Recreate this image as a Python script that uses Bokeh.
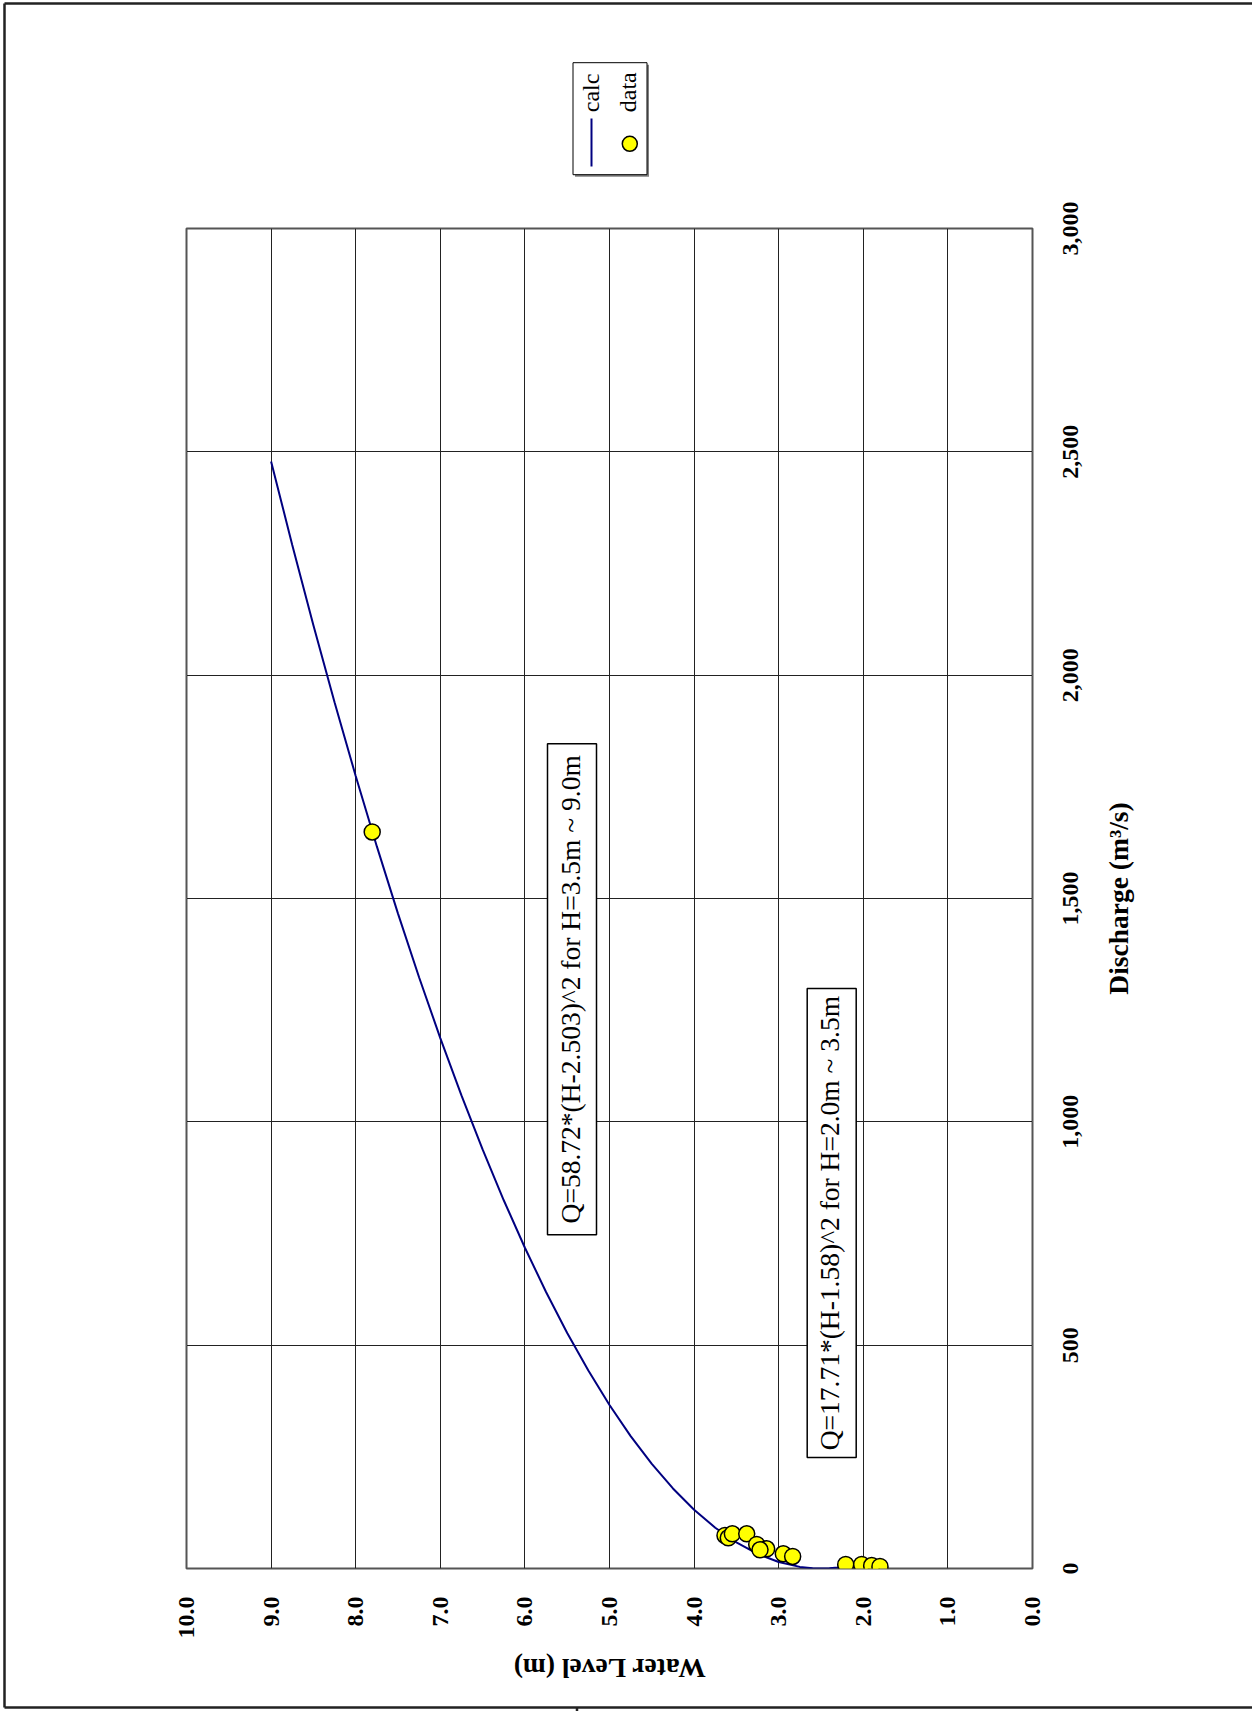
import math
from bokeh.plotting import figure
from bokeh.models import Range1d, FixedTicker, Grid
from bokeh.core.properties import value
from bokeh.embed import file_html
from bokeh.resources import INLINE

# ---------------- data ----------------
wl_ticks = [0, 1, 2, 3, 4, 5, 6, 7, 8, 9, 10]
wl_tick_labels = ["0.0", "1.0", "2.0", "3.0", "4.0", "5.0", "6.0", "7.0", "8.0", "9.0", "10.0"]
q_ticks = [0, 500, 1000, 1500, 2000, 2500, 3000]
q_tick_labels = ["0", "500", "1,000", "1,500", "2,000", "2,500", "3,000"]

# calc curve (water level H, discharge Q)
calc_h = [2.0, 2.1, 2.2, 2.3, 2.4, 2.5, 2.6, 2.75, 3.0, 3.25, 3.5, 3.75, 4.0, 4.25, 4.5,
          4.75, 5.0, 5.25, 5.5, 5.75, 6.0, 6.25, 6.5, 6.75, 7.0, 7.25, 7.5, 7.75, 8.0,
          8.25, 8.5, 8.75, 9.0]
calc_q = [14.9, 9.5, 5.4, 2.4, 0.6, 0.0, 0.6, 3.6, 14.5, 32.8, 58.4, 91.3, 131.6, 179.2, 234.2,
          296.5, 366.1, 443.1, 527.4, 619.1, 718.1, 824.4, 938.1, 1059.1, 1187.5, 1323.2, 1466.2,
          1616.6, 1774.3, 1939.4, 2111.8, 2291.6, 2478.6]

# measured data
data_h = [3.635, 3.596, 3.548, 3.378, 3.260, 3.142, 3.221, 2.946, 2.835, 2.208, 2.019, 1.901, 1.803, 7.805]
data_q = [73.9, 68.8, 77.7, 77.7, 53.8, 44.1, 41.9, 32.9, 26.9, 9.0, 9.0, 6.7, 4.5, 1649.0]

note_texts = ["Q=58.72*(H-2.503)^2 for H=3.5m ~ 9.0m", "Q=17.71*(H-1.58)^2 for H=2.0m ~ 3.5m"]
legend_labels = ["calc", "data"]
x_title = "Water Level (m)"
y_title = "Discharge (m\u00b3/s)"

# ---------------- layout ----------------
W, H = 1252, 1711
FL, FR, FT, FB = 186, 1032, 228, 1568
SERIF = "Liberation Serif"
NAVY = "#000080"


def hx(px):
    return 10 - (px - FL) * 10.0 / (FR - FL)


def qy(py):
    return (FB - py) * 3000.0 / (FB - FT)


def dw(pw):
    return pw * 10.0 / (FR - FL)


def dh(ph):
    return ph * 3000.0 / (FB - FT)


p = figure(width=W, height=H, x_range=Range1d(10, 0), y_range=Range1d(0, 3000),
           x_axis_location="below", y_axis_location=None,
           toolbar_location=None, output_backend="svg",
           min_border_left=FL, min_border_right=W - FR,
           min_border_top=FT, min_border_bottom=H - FB)
p.background_fill_color = "white"
p.border_fill_color = "white"
p.outline_line_color = "#555555"
p.outline_line_width = 2

ax = p.xaxis[0]
ax.ticker = FixedTicker(ticks=wl_ticks)
ax.major_label_overrides = {t: l for t, l in zip(wl_ticks, wl_tick_labels)}
ax.major_label_orientation = math.pi / 2
ax.major_label_standoff = 28
ax.major_label_text_font = SERIF
ax.major_label_text_font_style = "bold"
ax.major_label_text_font_size = "24px"
ax.major_label_text_color = "black"
ax.major_tick_in = 0
ax.major_tick_out = 0
ax.minor_tick_in = 0
ax.minor_tick_out = 0
ax.axis_line_color = None

p.xgrid.ticker = FixedTicker(ticks=wl_ticks)
p.xgrid.grid_line_color = "#222222"
p.xgrid.grid_line_width = 1
ygrid = Grid(dimension=1, ticker=FixedTicker(ticks=q_ticks),
             grid_line_color="#222222", grid_line_width=1)
p.add_layout(ygrid)

# notes (boxes + rotated text)
note_cx = [hx(571.5), hx(831.2)]
note_cy = [qy(988.8), qy(1222.6)]
note_bw = [dw(49), dw(49)]
note_bh = [dh(491), dh(469)]
p.rect(x=note_cx, y=note_cy, width=note_bw, height=note_bh,
       fill_color="white", line_color="black", line_width=1.5)
p.text(x=[c + dw(2) for c in note_cx], y=note_cy, text=note_texts, angle=math.pi / 2,
       text_font=value(SERIF), text_font_size="27.5px", text_color="black",
       text_align="center", text_baseline="middle")

# calc line and data points
p.line(calc_h, calc_q, line_color=NAVY, line_width=2)
p.scatter(data_h, data_q, size=16, fill_color="#FFFF00", line_color="black", line_width=1.5)

# discharge tick labels (right side, rotated)
p.text(x=[hx(1070)] * len(q_ticks), y=q_ticks, text=q_tick_labels, angle=math.pi / 2,
       text_font=value(SERIF), text_font_size="24px", text_font_style="bold",
       text_color="black", text_align="center", text_baseline="middle", level="overlay")

# axis titles
p.text(x=[hx(1118)], y=[qy(898)], text=[y_title], angle=math.pi / 2,
       text_font=value(SERIF), text_font_size="27.5px", text_font_style="bold",
       text_color="black", text_align="center", text_baseline="middle", level="overlay")
p.text(x=[hx(609)], y=[qy(1668)], text=[x_title], angle=math.pi,
       text_font=value(SERIF), text_font_size="27.5px", text_font_style="bold",
       text_color="black", text_align="center", text_baseline="middle", level="overlay")

# legend (rotated)
p.rect(x=[hx(611.5)], y=[qy(120.2)], width=[dw(74)], height=[dh(112)],
       fill_color="#808080", line_color=None, level="overlay")
p.rect(x=[hx(609.5)], y=[qy(118.2)], width=[dw(74)], height=[dh(112)],
       fill_color="white", line_color="black", line_width=1, level="overlay")
p.line([hx(591), hx(591)], [qy(118), qy(166)], line_color=NAVY, line_width=2, level="overlay")
p.ellipse(x=[hx(629.3)], y=[qy(143.3)], width=15, height=15,
          width_units="screen", height_units="screen",
          fill_color="#FFFF00", line_color="black", line_width=1.5, level="overlay")
p.text(x=[hx(590), hx(627)], y=[qy(111.7), qy(111.7)], text=legend_labels, angle=math.pi / 2,
       text_font=value(SERIF), text_font_size="24px", text_color="black",
       text_align="left", text_baseline="alphabetic", level="overlay")

# page border
p.multi_line(xs=[[hx(4), hx(W)], [hx(4), hx(4)], [hx(4), hx(W)], [hx(576.5), hx(576.5)]],
             ys=[[qy(3), qy(3)], [qy(3), qy(1707)], [qy(1707), qy(1707)], [qy(1707), qy(1711)]],
             line_color="#222222", line_width=2.5, level="overlay")

open("out.html", "w").write(file_html(p, INLINE))
